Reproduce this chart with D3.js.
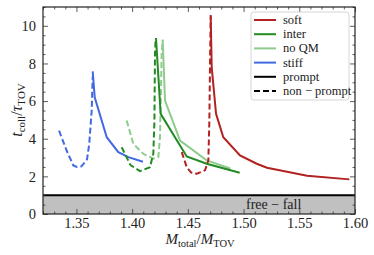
<!DOCTYPE html>
<html><head><meta charset="utf-8">
<script src="https://cdn.jsdelivr.net/npm/d3@7"></script>
<style>body{margin:0;background:#fff}</style>
</head><body><svg id="c" width="374" height="255"></svg>
<script>
const xDomain=[1.32,1.60], yDomain=[0,11];
const xTicks=[1.35,1.40,1.45,1.50,1.55,1.60];
const yTicks=[0,2,4,6,8,10];
const seriesNames=["soft","inter","no QM","stiff"];
const seriesColors=["#b22222","#228b22","#8dcc8d","#4169e1"];
// prompt (solid) curves
const softPrompt=[[1.4705,10.58],[1.4714,7.79],[1.4753,5.32],[1.4818,4.08],[1.4968,3.11],[1.5118,2.67],[1.521,2.46],[1.557,2.03],[1.595,1.84]];
const interPrompt=[[1.4214,9.35],[1.4256,5.32],[1.4490,3.06],[1.4669,2.67],[1.4965,2.19]];
const noqmPrompt=[[1.4274,9.26],[1.4295,6.03],[1.443,3.9],[1.4669,2.85],[1.4881,2.42]];
const stiffPrompt=[[1.3646,7.58],[1.3664,6.2],[1.3772,4.08],[1.3876,3.29],[1.3966,3.02],[1.4097,2.78]];
// non-prompt (dashed) curves
const softNonPrompt=[[1.4445,3.29],[1.449,2.49],[1.453,2.2],[1.458,2.14],[1.4654,2.32],[1.4684,2.85],[1.4693,4.97],[1.470,8.5],[1.4705,10.5]];
const interNonPrompt=[[1.3906,3.55],[1.3985,2.6],[1.4071,2.28],[1.416,2.49],[1.419,3.2],[1.420,4.97],[1.4205,8.5],[1.4211,9.35]];
const noqmNonPrompt=[[1.3951,4.97],[1.401,3.73],[1.410,3.2],[1.419,2.94],[1.4235,3.02],[1.425,4.08],[1.4265,8.5],[1.4274,9.26]];
const stiffNonPrompt=[[1.3344,4.43],[1.341,3.4],[1.3472,2.58],[1.3505,2.5],[1.3545,2.53],[1.3595,2.9],[1.3615,3.73],[1.3637,5.5],[1.3646,7.3]];
const freeFall=1;

const FONT="'Liberation Serif','DejaVu Serif',serif";
const svg=d3.select("#c");
const L=43,R=355,T=7,B=214;
const x=d3.scaleLinear().domain(xDomain).range([L,R]);
const y=d3.scaleLinear().domain(yDomain).range([B,T]);

// free-fall band
svg.append("rect").attr("x",L).attr("y",y(freeFall)).attr("width",R-L).attr("height",y(0)-y(freeFall)).attr("fill","#c0c0c0");
svg.append("line").attr("x1",L).attr("x2",R).attr("y1",y(freeFall)).attr("y2",y(freeFall)).attr("stroke","#000").attr("stroke-width",2);
svg.append("text").attr("x",x(1.527)).attr("y",y(0.5)+4.5).attr("text-anchor","middle").attr("font-size",14).attr("fill","#222").text("free − fall");

const line=d3.line().x(d=>x(d[0])).y(d=>y(d[1]));
const prompt=[softPrompt,interPrompt,noqmPrompt,stiffPrompt];
const nonPrompt=[softNonPrompt,interNonPrompt,noqmNonPrompt,stiffNonPrompt];
const order=[3,2,1,0];
order.forEach(i=>{
  svg.append("path").datum(nonPrompt[i]).attr("d",line).attr("fill","none").attr("stroke",seriesColors[i]).attr("stroke-width",2).attr("stroke-dasharray","6,3");
  svg.append("path").datum(prompt[i]).attr("d",line).attr("fill","none").attr("stroke",seriesColors[i]).attr("stroke-width",2);
});

// axes with inward ticks on all sides
const minorX=d3.range(1.32,1.6001,0.01).filter(v=>!xTicks.some(t=>Math.abs(t-v)<1e-6));
const minorY=d3.range(0,11.001,0.5).filter(v=>!yTicks.some(t=>Math.abs(t-v)<1e-6));
const g=svg.append("g");
g.append("g").attr("transform",`translate(0,${B})`).call(d3.axisBottom(x).tickValues(xTicks).tickSize(-5).tickFormat(d3.format(".2f")).tickPadding(4));
g.append("g").attr("transform",`translate(0,${B})`).call(d3.axisBottom(x).tickValues(minorX).tickSize(-2.5).tickFormat(""));
g.append("g").attr("transform",`translate(0,${T})`).call(d3.axisTop(x).tickValues(xTicks).tickSize(-5).tickFormat(""));
g.append("g").attr("transform",`translate(0,${T})`).call(d3.axisTop(x).tickValues(minorX).tickSize(-2.5).tickFormat(""));
g.append("g").attr("transform",`translate(${L},0)`).call(d3.axisLeft(y).tickValues(yTicks).tickSize(-5).tickPadding(7));
g.append("g").attr("transform",`translate(${L},0)`).call(d3.axisLeft(y).tickValues(minorY).tickSize(-2.5).tickFormat(""));
g.append("g").attr("transform",`translate(${R},0)`).call(d3.axisRight(y).tickValues(yTicks).tickSize(-5).tickFormat(""));
g.append("g").attr("transform",`translate(${R},0)`).call(d3.axisRight(y).tickValues(minorY).tickSize(-2.5).tickFormat(""));
g.selectAll(".domain").remove();
g.selectAll("line").attr("stroke","#333").attr("stroke-width",0.8);
g.selectAll("text").attr("font-size",14.5).attr("fill","#222");
svg.append("rect").attr("x",L).attr("y",T).attr("width",R-L).attr("height",B-T).attr("fill","none").attr("stroke","#222").attr("stroke-width",1.2);

// legend
const lg=svg.append("g");
lg.append("rect").attr("x",251).attr("y",12).attr("width",98).attr("height",88).attr("rx",3).attr("fill","#fff").attr("fill-opacity",0.85).attr("stroke","#ccc").attr("stroke-width",0.8);
const legendItems=seriesNames.map((n,i)=>({label:n,color:seriesColors[i],dash:null})).concat([{label:"prompt",color:"#000",dash:null},{label:"non − prompt",color:"#000",dash:"6,3"}]);
legendItems.forEach((d,i)=>{
  const yy=20+i*14.2;
  lg.append("line").attr("x1",254).attr("x2",276).attr("y1",yy).attr("y2",yy).attr("stroke",d.color).attr("stroke-width",2).attr("stroke-dasharray",d.dash);
  lg.append("text").attr("x",283).attr("y",yy+4).attr("font-size",12.5).attr("fill","#222").text(d.label);
});

// axis labels
const xl=svg.append("text").attr("x",200).attr("y",244).attr("text-anchor","middle").attr("font-size",15).attr("fill","#222");
xl.append("tspan").attr("font-style","italic").text("M");
xl.append("tspan").attr("font-size",10.5).attr("dy",3).text("total");
xl.append("tspan").attr("dy",-3).text("/");
xl.append("tspan").attr("font-style","italic").text("M");
xl.append("tspan").attr("font-size",10.5).attr("dy",3).text("TOV");
const yl=svg.append("text").attr("transform","translate(22,110) rotate(-90)").attr("text-anchor","middle").attr("font-size",16).attr("fill","#222");
yl.append("tspan").attr("font-style","italic").text("t");
yl.append("tspan").attr("font-size",11).attr("dy",3).text("coll");
yl.append("tspan").attr("dy",-3).text("/");
yl.append("tspan").attr("font-style","italic").text("τ");
yl.append("tspan").attr("font-size",11).attr("dy",3).text("TOV");

svg.selectAll("text").style("font-family",FONT).style("font-weight","normal");
</script></body></html>
